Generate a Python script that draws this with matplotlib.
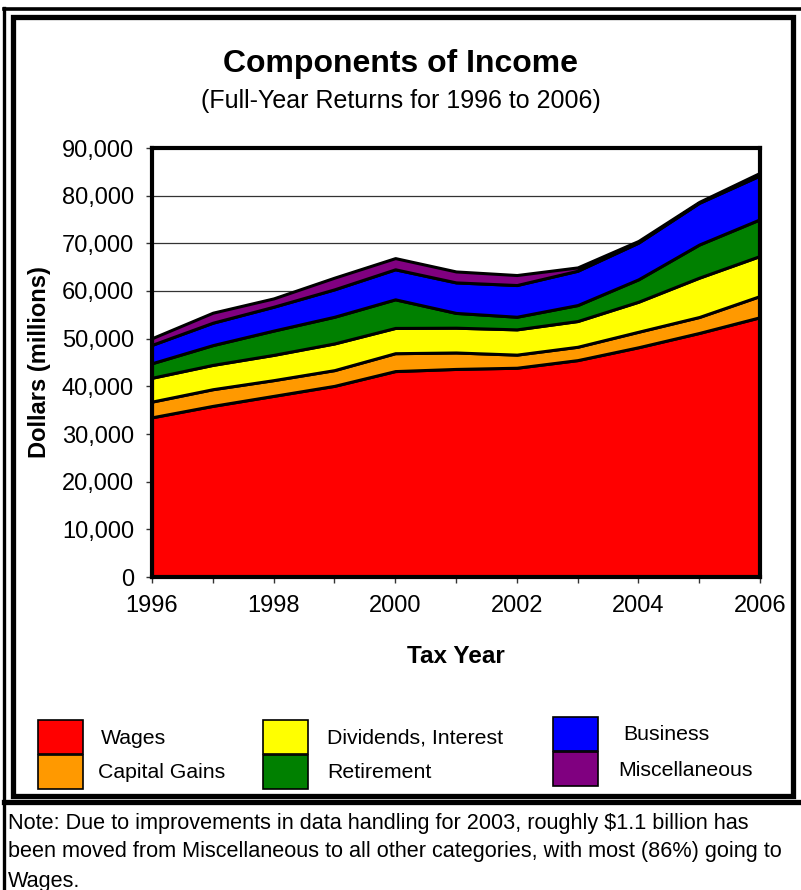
import matplotlib
matplotlib.use('Agg')
import matplotlib.pyplot as plt
from matplotlib.patches import Rectangle
from matplotlib.lines import Line2D
from matplotlib.ticker import FuncFormatter, MultipleLocator

plt.rcParams['font.family'] = ['Liberation Sans', 'DejaVu Sans']

# data (millions of dollars)
years = [1996, 1997, 1998, 1999, 2000, 2001, 2002, 2003, 2004, 2005, 2006]
wages = [33500, 35900, 38000, 40100, 43200, 43650, 43900, 45500, 48200, 51200, 54500]
capital_gains = [3300, 3500, 3300, 3300, 3750, 3450, 2750, 2800, 3250, 3350, 4450]
dividends = [5000, 5100, 5300, 5600, 5300, 5200, 5300, 5400, 6300, 8250, 8400]
retirement = [3050, 4150, 5100, 5600, 6000, 3100, 2650, 3350, 4700, 6950, 7700]
business = [3850, 4700, 5000, 5750, 6300, 6400, 6650, 7200, 7700, 8750, 9200]
misc = [1400, 2100, 1750, 2450, 2350, 2300, 2100, 700, 350, 200, 550]

series_names = ['Wages', 'Capital Gains', 'Dividends, Interest', 'Retirement',
                'Business', 'Miscellaneous']
colors = ['#ff0000', '#ff9900', '#ffff00', '#008000', '#0000ff', '#800080']

W, H = 801, 890
fig = plt.figure(figsize=(W / 100, H / 100), dpi=100)
fig.set_facecolor('white')


def fx(x):
    return x / W


def fy(y):
    return 1 - y / H


# frame lines around the whole figure
fig.add_artist(Line2D([fx(4), fx(4)], [fy(8), fy(890)], color='black', lw=2.4))
fig.add_artist(Line2D([fx(4), fx(801)], [fy(9), fy(9)], color='black', lw=2.6))
fig.add_artist(Rectangle((fx(13), fy(796)), fx(793) - fx(13), fy(17) - fy(796),
                         transform=fig.transFigure, fill=False, edgecolor='black', lw=3.8))
fig.add_artist(Line2D([fx(4), fx(801)], [fy(802), fy(802)], color='black', lw=3.8))

# main plot
ax = fig.add_axes([fx(152), fy(577), fx(760) - fx(152), fy(148) - fy(577)])
ax.stackplot(years, wages, capital_gains, dividends, retirement, business, misc,
             colors=colors, edgecolor='black', linewidth=2.2, zorder=2)
ax.set_xlim(1996, 2006)
ax.set_ylim(0, 90000)
ax.yaxis.set_major_locator(MultipleLocator(10000))
ax.yaxis.set_major_formatter(FuncFormatter(lambda v, p: f'{int(v):,}'))
ax.set_xticks(range(1996, 2007, 2))
ax.set_xticks(range(1996, 2007), minor=True)
ax.grid(axis='y', color='#333333', lw=0.9, zorder=0)
ax.set_axisbelow(True)
for s in ax.spines.values():
    s.set_linewidth(3)
    s.set_zorder(5)
ax.tick_params(axis='both', which='both', direction='out', length=4, width=1,
               color='#333333', labelsize=17, pad=9)
ax.tick_params(axis='x', which='minor', labelbottom=False)
ax.set_ylabel('Dollars (millions)', fontsize=17, fontweight='bold', labelpad=8)
ax.set_xlabel('Tax Year', fontsize=17.5, fontweight='bold', labelpad=20)

# titles
fig.text(0.5, fy(64), 'Components of Income', ha='center', va='center',
         fontsize=23, fontweight='bold')
fig.text(0.5, fy(101), '(Full-Year Returns for 1996 to 2006)', ha='center', va='center',
         fontsize=18)

# legend, three columns of two
col_x = [38, 263, 553]
text_x = [[101, 98], [327, 327], [623, 618]]
row_top = [[720, 755], [720, 755], [717, 752]]
for i, (name, c) in enumerate(zip(series_names, colors)):
    col, row = i // 2, i % 2
    top = row_top[col][row]
    fig.add_artist(Rectangle((fx(col_x[col]), fy(top + 34)), fx(45), 34 / H,
                             transform=fig.transFigure, facecolor=c,
                             edgecolor='black', lw=1.2))
    fig.text(fx(text_x[col][row]), fy(top + 18), name, ha='left', va='center', fontsize=15.3)

# note below the chart
note_lines = ['Note: Due to improvements in data handling for 2003, roughly $1.1 billion has',
              'been moved from Miscellaneous to all other categories, with most (86%) going to',
              'Wages.']
for k, line in enumerate(note_lines):
    fig.text(fx(8), fy(823 + 29 * k), line, ha='left', va='center', fontsize=15.6)

fig.savefig('out.png', dpi=100)
